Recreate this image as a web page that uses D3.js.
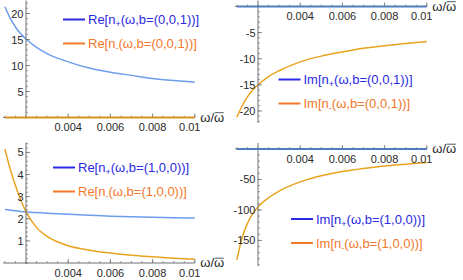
<!DOCTYPE html>
<html>
<head>
<meta charset="utf-8">
<script src="https://cdn.jsdelivr.net/npm/d3@7"></script>
<style>
  body { margin: 0; background: #fff; }
  text { font-family: "Liberation Sans", Arial, sans-serif; }
</style>
</head>
<body>
<div id="chart"></div>
<script>
const width = 463;
const height = 280;

// omega / omega-bar sample points
const omega = [0.001, 0.00125, 0.0015, 0.00175, 0.002, 0.0025, 0.003, 0.004, 0.005, 0.006, 0.007, 0.008, 0.009, 0.01];

// b = (0,0,1)
const reNplusZ  = [21.3, 19.1, 17.4, 16.1, 15.1, 13.5, 12.3, 10.7, 9.5, 8.7, 8.1, 7.5, 7.1, 6.8];
const reNminusZ = [0, 0, 0, 0, 0, 0, 0, 0, 0, 0, 0, 0, 0, 0];
const imNplusZ  = [0, 0, 0, 0, 0, 0, 0, 0, 0, 0, 0, 0, 0, 0];
const imNminusZ = [-21.2, -19.0, -17.3, -16.0, -15.0, -13.4, -12.3, -10.6, -9.5, -8.7, -8.0, -7.5, -7.1, -6.7];

// b = (1,0,0)
const reNplusX  = [2.42, 2.39, 2.36, 2.33, 2.31, 2.28, 2.25, 2.20, 2.16, 2.12, 2.09, 2.07, 2.05, 2.03];
const reNminusX = [5.15, 4.25, 3.5, 2.85, 2.32, 1.6, 1.2, 0.78, 0.58, 0.45, 0.35, 0.28, 0.22, 0.17];
const imNplusX  = [0, 0, 0, 0, 0, 0, 0, 0, 0, 0, 0, 0, 0, 0];
const imNminusX = [-182, -145, -122, -106, -95, -80, -69, -54, -44, -37, -32, -28, -25, -22];

// ticks
const xTicks = [0.004, 0.006, 0.008, 0.01];
const xTickLabels = ['0.004', '0.006', '0.008', '0.01'];
const yTicksReZ = [5, 10, 15, 20];
const yTicksImZ = [-20, -15, -10, -5];
const yTicksReX = [1, 2, 3, 4, 5];
const yTicksImX = [-150, -100, -50];

const blueCurve = '#6d9ded';
const orangeCurve = '#e9a31f';
const blueLegend = '#2a2ae0';
const orangeLegend = '#f2782a';

const panels = [
  { ox: 0, oy: 0, yDomain: [0, 22.5], yRange: [117.5, 0.5], yTicks: yTicksReZ, minor: 1,
    series: [reNplusZ, reNminusZ], zero: 1, zeroColor: '#d2951f',
    labels: ['Re', 'Re'], b: '(0,0,1)', legend: [63, 19.5] },
  { ox: 232, oy: 0, yDomain: [-22.3, 0], yRange: [123, 6.5], yTicks: yTicksImZ, minor: 1,
    series: [imNplusZ, imNminusZ], zero: 0, zeroColor: '#4f7cbd',
    labels: ['Im', 'Im'], b: '(0,0,1)', legend: [46.5, 79.5] },
  { ox: 0, oy: 0, yDomain: [0, 5.45], yRange: [263, 142.5], yTicks: yTicksReX, minor: 0.2,
    series: [reNplusX, reNminusX], zero: -1,
    labels: ['Re', 'Re'], b: '(1,0,0)', legend: [53, 167.5] },
  { ox: 232, oy: 0, yDomain: [-192, 0], yRange: [266, 149], yTicks: yTicksImX, minor: 10,
    series: [imNplusX, imNminusX], zero: 0, zeroColor: '#4f7cbd',
    labels: ['Im', 'Im'], b: '(1,0,0)', legend: [59, 219] }
];

const svg = d3.select('#chart')
  .append('svg')
  .attr('width', width)
  .attr('height', height);

const axisColor = '#6e6e6e';

panels.forEach(function (p) {
  const g = svg.append('g').attr('transform', `translate(${p.ox},${p.oy})`);

  // x: 0.002 sits on the vertical axis
  const x = d3.scaleLinear().domain([0.002, 0.01]).range([26, 194.8]);
  const y = d3.scaleLinear().domain(p.yDomain).range(p.yRange);
  const y0 = y(0);
  const xAxisStart = 0.00092;

  // curves (drawn first so axes ticks sit over them)
  const line = d3.line()
    .x((d, i) => x(omega[i]))
    .y(d => y(d))
    .curve(d3.curveMonotoneX);

  p.series.forEach(function (s, k) {
    if (k === p.zero) return;
    g.append('path')
      .datum(s)
      .attr('d', line)
      .attr('fill', 'none')
      .attr('stroke', k === 0 ? blueCurve : orangeCurve)
      .attr('stroke-width', 1.5);
  });

  // x axis line
  g.append('line')
    .attr('x1', x(xAxisStart)).attr('x2', x(0.01))
    .attr('y1', y0).attr('y2', y0)
    .attr('stroke', axisColor).attr('stroke-width', 1);

  // x minor + major ticks (pointing up)
  const xMinor = d3.range(0.001, 0.01001, 0.0005);
  g.selectAll('.xminor')
    .data(xMinor)
    .enter().append('line')
    .attr('x1', d => x(d)).attr('x2', d => x(d))
    .attr('y1', y0).attr('y2', y0 - 2)
    .attr('stroke', axisColor).attr('stroke-width', 0.7);
  g.selectAll('.xmajor')
    .data(xTicks)
    .enter().append('line')
    .attr('x1', d => x(d)).attr('x2', d => x(d))
    .attr('y1', y0).attr('y2', y0 - 4)
    .attr('stroke', axisColor).attr('stroke-width', 0.8);
  // the last label is nudged left, clear of the axis label
  g.selectAll('.xlab')
    .data(xTicks)
    .enter().append('text')
    .attr('x', (d, i) => x(d) - (i === xTicks.length - 1 ? 5 : 0))
    .attr('y', y0 + 13.5)
    .attr('text-anchor', 'middle')
    .attr('font-size', 11)
    .attr('fill', '#2a2a2a')
    .text((d, i) => xTickLabels[i]);

  // axis label omega / omega-bar
  const lab = g.append('text')
    .attr('x', x(0.01) + 5.5)
    .attr('y', y0 + 4)
    .attr('font-family', '"Liberation Serif", "Times New Roman", serif')
    .attr('font-size', 13)
    .attr('fill', '#2a2a2a');
  lab.append('tspan').text('ω/');
  const bar = lab.append('tspan').text('ω');
  const bb = bar.node().getBBox();
  g.append('line')
    .attr('x1', bb.x + 0.5).attr('x2', bb.x + bb.width - 0.5)
    .attr('y1', bb.y + 3.2).attr('y2', bb.y + 3.2)
    .attr('stroke', '#2a2a2a').attr('stroke-width', 0.8);

  // y axis line
  const yTop = Math.max(p.yDomain[0], p.yDomain[1]);
  const yBot = Math.min(p.yDomain[0], p.yDomain[1]);
  g.append('line')
    .attr('x1', x(0.002)).attr('x2', x(0.002))
    .attr('y1', y(yBot) + (yBot === 0 ? 1 : 0)).attr('y2', y(yTop) - (yTop === 0 ? 6 : 0))
    .attr('stroke', axisColor).attr('stroke-width', 1);

  const yMinor = d3.range(Math.ceil(yBot / p.minor), Math.floor(yTop / p.minor) + 1).map(k => k * p.minor);
  g.selectAll('.yminor')
    .data(yMinor)
    .enter().append('line')
    .attr('x1', x(0.002)).attr('x2', x(0.002) + 2)
    .attr('y1', d => y(d)).attr('y2', d => y(d))
    .attr('stroke', axisColor).attr('stroke-width', 0.7);
  g.selectAll('.ymajor')
    .data(p.yTicks)
    .enter().append('line')
    .attr('x1', x(0.002)).attr('x2', x(0.002) + 4)
    .attr('y1', d => y(d)).attr('y2', d => y(d))
    .attr('stroke', axisColor).attr('stroke-width', 0.8);
  g.selectAll('.ylab')
    .data(p.yTicks)
    .enter().append('text')
    .attr('x', x(0.002) - 2.5)
    .attr('y', d => y(d) + 4)
    .attr('text-anchor', 'end')
    .attr('font-size', 11)
    .attr('fill', '#2a2a2a')
    .text(d => String(d));

  // zero-valued series sits on top of the axis
  if (p.zero >= 0) {
    g.append('path')
      .datum(p.series[p.zero])
      .attr('d', line)
      .attr('fill', 'none')
      .attr('stroke', p.zeroColor)
      .attr('stroke-width', 2.2);
  }

  // legend
  const [lx, ly] = p.legend;
  const colors = [blueLegend, orangeLegend];
  const subs = ['+', '-'];
  [0, 1].forEach(function (k) {
    const yy = ly + k * 24;
    g.append('line')
      .attr('x1', lx).attr('x2', lx + 22)
      .attr('y1', yy).attr('y2', yy)
      .attr('stroke', colors[k]).attr('stroke-width', 2);
    const t = g.append('text')
      .attr('x', lx + 25)
      .attr('y', yy + 4.5)
      .attr('font-size', 13)
      .attr('fill', colors[k]);
    t.append('tspan').text(p.labels[k] + '[n');
    t.append('tspan').attr('font-size', 9).attr('dy', 3).text(subs[k] === '-' ? '\u2010' : '+');
    t.append('tspan').attr('dy', -3).text('(ω,b=' + p.b + ')]');
  });
});
</script>
</body>
</html>
